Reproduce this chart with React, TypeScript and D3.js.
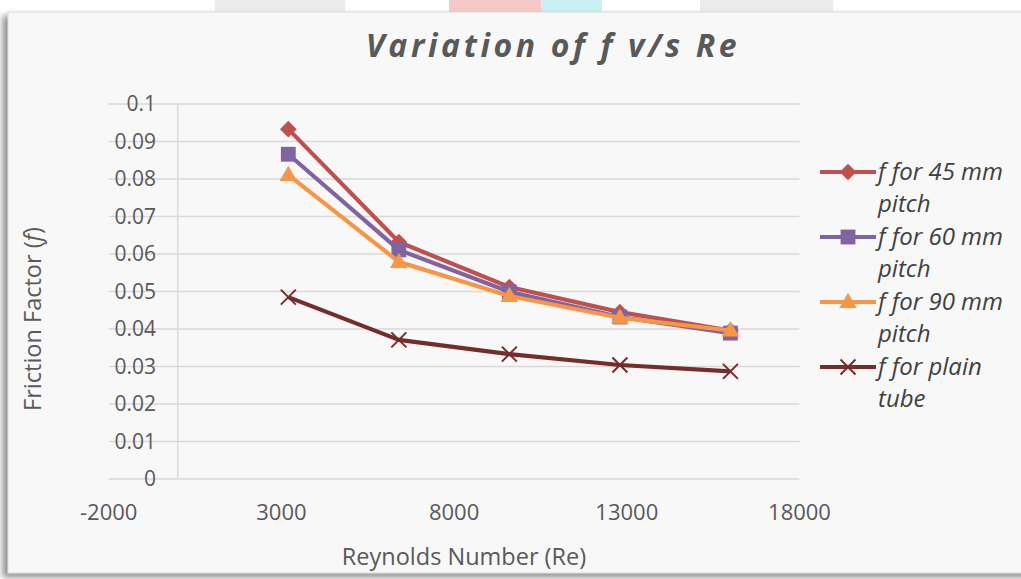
import React from "react";
import * as d3 from "d3";

// Reynolds numbers along x
const reynolds = [3200, 6400, 9600, 12800, 16000];

// friction factor per series
const f45 = [0.0933, 0.0632, 0.0512, 0.0445, 0.0396];
const f60 = [0.0866, 0.0611, 0.0499, 0.0432, 0.0389];
const f90 = [0.0811, 0.0579, 0.0488, 0.043, 0.0396];
const fPlain = [0.0485, 0.0371, 0.0333, 0.0304, 0.0287];

const legendLabels = [
  ["f for 45 mm", "pitch"],
  ["f for 60 mm", "pitch"],
  ["f for 90 mm", "pitch"],
  ["f for plain", "tube"],
];

const xTicks = [-2000, 3000, 8000, 13000, 18000];
const yTicks = [0, 0.01, 0.02, 0.03, 0.04, 0.05, 0.06, 0.07, 0.08, 0.09, 0.1];

const W = 1021;
const H = 579;
const FONT = "'Open Sans', 'Noto Sans', sans-serif";
const TXT = "#595959";

const series = [
  { values: f45, color: "#C0504D", marker: "diamond" },
  { values: f60, color: "#8064A2", marker: "square" },
  { values: f90, color: "#F79646", marker: "triangle" },
  { values: fPlain, color: "#772C2A", marker: "x" },
];

function Marker({ kind, x, y, color }: { kind: string; x: number; y: number; color: string }) {
  if (kind === "diamond") {
    const p = d3.symbol().type(d3.symbolSquare).size(140)();
    return <path d={p || ""} transform={`translate(${x},${y}) rotate(45)`} fill={color} />;
  }
  if (kind === "square") {
    const p = d3.symbol().type(d3.symbolSquare).size(220)();
    return <path d={p || ""} transform={`translate(${x},${y})`} fill={color} />;
  }
  if (kind === "triangle") {
    const p = d3.symbol().type(d3.symbolTriangle).size(135)();
    return <path d={p || ""} transform={`translate(${x},${y + 1})`} fill={color} />;
  }
  const s = 7.5;
  return (
    <path
      d={`M${x - s},${y - s}L${x + s},${y + s}M${x - s},${y + s}L${x + s},${y - s}`}
      stroke={color}
      strokeWidth={2}
      fill="none"
    />
  );
}

export default function App() {
  const x = d3.scaleLinear().domain([-2000, 18000]).range([108.7, 799.5]);
  const y = d3.scaleLinear().domain([0, 0.1]).range([479, 104]);

  const line = d3
    .line<number>()
    .x((_, i) => x(reynolds[i]))
    .y((d) => y(d));

  return (
    <svg
      width={W}
      height={H}
      style={{ position: "absolute", left: 0, top: 0 }}
      fontFamily={FONT}
    >
      <defs>
        <filter id="shadow" x="-5%" y="-5%" width="110%" height="110%">
          <feDropShadow dx={-5} dy={4} stdDeviation={3} floodColor="#777" floodOpacity={0.8} />
        </filter>
      </defs>
      <rect x={0} y={0} width={W} height={H} fill="#ffffff" />

      {/* faint background image above the chart frame */}
      <rect x={215} y={0} width={130} height={14} fill="#e4e4e4" opacity={0.7} />
      <rect x={449} y={0} width={92} height={14} fill="#f6c9c9" />
      <rect x={541} y={0} width={61} height={14} fill="#c9f1f3" />
      <rect x={700} y={0} width={133} height={14} fill="#e4e4e4" opacity={0.7} />

      {/* chart frame */}
      <rect
        x={8}
        y={12}
        width={W + 10}
        height={561}
        fill="#f8f8f8"
        stroke="#d9d9d9"
        strokeWidth={1}
        filter="url(#shadow)"
      />

      {/* title */}
      <text
        x={553}
        y={57}
        textAnchor="middle"
        fontSize={32}
        fontWeight="bold"
        fontStyle="italic"
        letterSpacing={3.6}
        fill={TXT}
      >
        Variation of f v/s Re
      </text>

      {/* horizontal gridlines */}
      {yTicks.map((t) => (
        <line
          key={"g" + t}
          x1={x(-2000)}
          x2={x(18000)}
          y1={y(t)}
          y2={y(t)}
          stroke="#d9d9d9"
          strokeWidth={1.5}
        />
      ))}
      {/* vertical axis at x = 0 */}
      <line x1={x(0)} x2={x(0)} y1={y(0.1)} y2={y(0)} stroke="#d9d9d9" strokeWidth={1.5} />

      {/* y tick labels */}
      {yTicks.map((t) => (
        <text
          key={"yl" + t}
          x={156}
          y={y(t)}
          dy="0.35em"
          textAnchor="end"
          fontSize={21}
          fill={TXT}
        >
          {String(+t.toFixed(2))}
        </text>
      ))}

      {/* x tick labels */}
      {xTicks.map((t) => (
        <text
          key={"xl" + t}
          x={x(t)}
          y={512}
          dy="0.35em"
          textAnchor="middle"
          fontSize={22}
          fill={TXT}
        >
          {t}
        </text>
      ))}

      {/* axis titles */}
      <text x={464} y={557} dy="0.35em" textAnchor="middle" fontSize={23.5} fill={TXT}>
        Reynolds Number (Re)
      </text>
      <text
        transform={`translate(33,319) rotate(-90)`}
        dy="0.35em"
        textAnchor="middle"
        fontSize={23.5}
        fill={TXT}
      >
        Friction Factor (<tspan fontStyle="italic">f</tspan>)
      </text>

      {/* series */}
      {series.map((s, si) => (
        <g key={"s" + si}>
          <path d={line(s.values) || ""} fill="none" stroke={s.color} strokeWidth={4.2} strokeLinejoin="round" />
          {s.values.map((v, i) => (
            <Marker key={i} kind={s.marker} x={x(reynolds[i])} y={y(v)} color={s.color} />
          ))}
        </g>
      ))}

      {/* legend */}
      {series.map((s, si) => {
        const ly = 172 + si * 65;
        return (
          <g key={"lg" + si}>
            <line x1={820} x2={876} y1={ly} y2={ly} stroke={s.color} strokeWidth={4.2} />
            <Marker kind={s.marker} x={848} y={ly} color={s.color} />
            <text x={878} y={ly} dy="0.35em" fontSize={24} fontStyle="italic" fill="#404040">
              {legendLabels[si][0]}
            </text>
            <text x={878} y={ly + 32} dy="0.35em" fontSize={24} fontStyle="italic" fill="#404040">
              {legendLabels[si][1]}
            </text>
          </g>
        );
      })}
    </svg>
  );
}
